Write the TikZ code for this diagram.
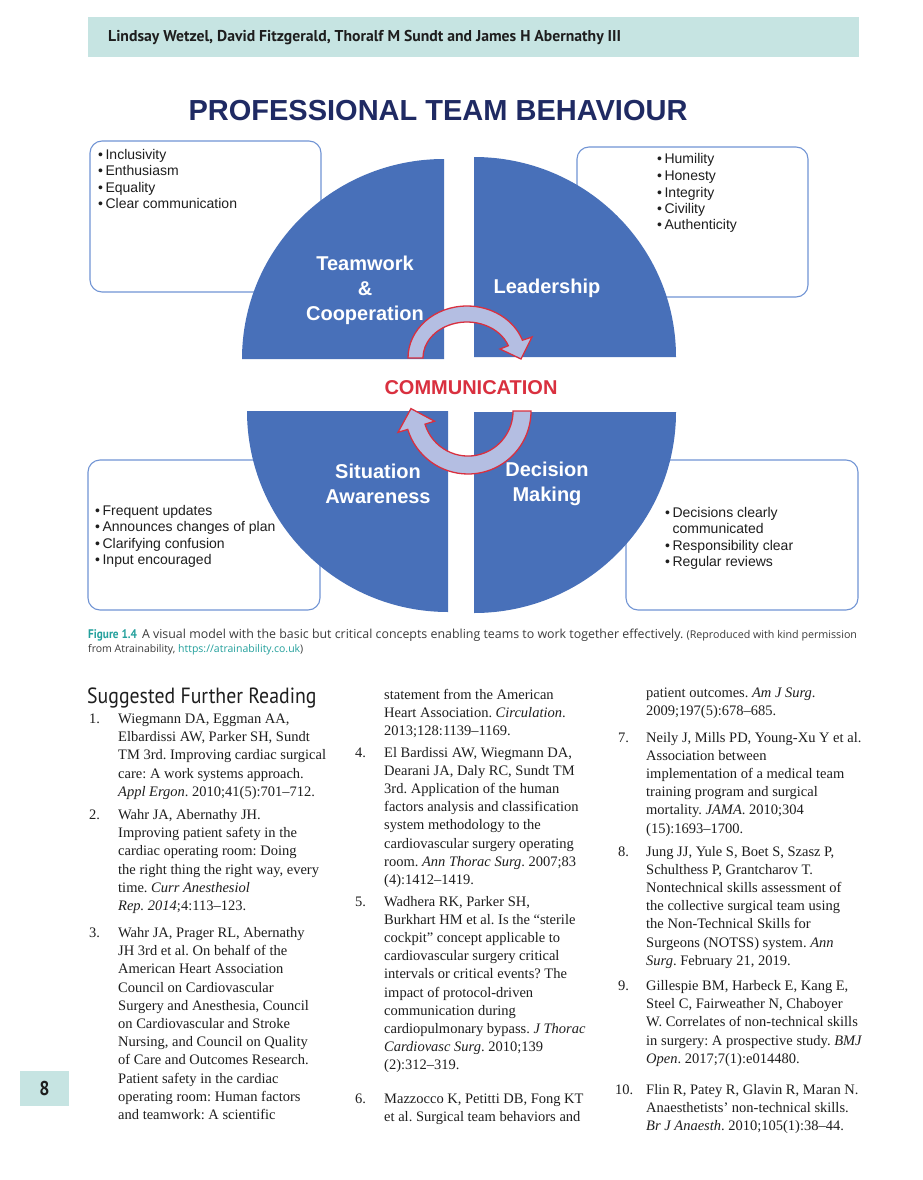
\documentclass[tikz,border=0pt]{standalone}
\usepackage{fontspec}
\usepackage{xcolor}
\usepackage{tikz}
\setmainfont{Liberation Serif}
\newfontfamily\arialfont{Liberation Sans}
\newfontfamily\condfont[FakeStretch=0.9]{PT Sans}
\newfontfamily\headfont{PT Sans}
\newfontfamily\captfont{Open Sans}
\definecolor{tbBlue}{HTML}{4870B9}
\definecolor{tbEdge}{HTML}{7194D4}
\definecolor{tbNavy}{HTML}{1F2A63}
\definecolor{tbRed}{HTML}{D9303F}
\definecolor{tbLav}{HTML}{B4BEE2}
\definecolor{tbTeal}{HTML}{C6E4E2}
\definecolor{tbCapt}{HTML}{23A09C}
\definecolor{tbGrey}{HTML}{3C3C3C}
\definecolor{tbInk}{HTML}{1E1E1E}
\newcommand\linestack[1]{\begin{tabular}[t]{@{}l@{}}#1\end{tabular}}
\newcommand\bitem{•\hspace{2.5pt}}
\frenchspacing
\tikzset{
  listbox/.style={
    draw=tbEdge, line width=1.1pt, rounded corners=12pt, fill=white, inner sep=0pt
  },
  quadrant/.style={fill=tbBlue, draw=none},
  quadlabel/.style={text=white, align=center, inner sep=0pt,
    font=\arialfont\bfseries\fontsize{20}{25}\selectfont},
  bullettext/.style={anchor=base west, inner sep=0pt, text=tbInk,
    font=\arialfont\fontsize{14}{16.5}\selectfont},
  commarrow/.style={fill=tbLav, draw=tbRed, line width=1.3pt, line join=miter},
  headbar/.style={fill=tbTeal, draw=none, inner sep=0pt},
  refnum/.style={anchor=base west, inner sep=0pt, text=tbInk,
    font=\fontsize{14.5}{18.2}\selectfont},
  reftext/.style={refnum},
  captext/.style={anchor=base west, inner sep=0pt, text=tbGrey,
    font=\captfont\fontsize{12.4}{14}\selectfont}
}
\begin{document}
\begin{tikzpicture}[x=1pt, y=-1pt]
  \useasboundingbox (0,0) rectangle (922,1180);
  \fill[white] (0,0) rectangle (922,1180);
  % running head
  \node[headbar, minimum width=771pt, minimum height=40pt] (head) at (473.5,37) {};
  \node[anchor=base west, inner sep=0pt, text=tbInk, font=\headfont\bfseries\fontsize{15.7}{18}\selectfont]
    (authors) at (108,42) {Lindsay Wetzel, David Fitzgerald, Thoralf M Sundt and James H Abernathy III};
  % figure
  \node[text=tbNavy, inner sep=0pt, font=\arialfont\bfseries\fontsize{29}{34}\selectfont]
    (title) at (438,111) {PROFESSIONAL TEAM BEHAVIOUR};
  \node[listbox, minimum width=231pt, minimum height=151pt] (boxTW) at (205.5,216.5) {};
  \node[listbox, minimum width=231pt, minimum height=150pt] (boxLD) at (692.5,222) {};
  \node[listbox, minimum width=232pt, minimum height=150pt] (boxSA) at (204,535) {};
  \node[listbox, minimum width=232pt, minimum height=150pt] (boxDM) at (742,535) {};
  \node[bullettext] (listTW) at (98,159)
    {\linestack{\bitem Inclusivity\\ \bitem Enthusiasm\\ \bitem Equality\\ \bitem Clear communication}};
  \node[bullettext] (listLD) at (657,164)
    {\linestack{\bitem Humility\\ \bitem Honesty\\ \bitem Integrity\\ \bitem Civility\\ \bitem Authenticity}};
  \node[bullettext] (listSA) at (95,515)
    {\linestack{\bitem Frequent updates\\ \bitem Announces changes of plan\\ \bitem Clarifying confusion\\ \bitem Input encouraged}};
  \node[bullettext] (listDM) at (665,517)
    {\linestack{\bitem Decisions clearly\\ \hphantom{\bitem}communicated\\ \bitem Responsibility clear\\ \bitem Regular reviews}};
  \fill[quadrant] (444,359) -- (242,359) arc[start angle=180, end angle=270, x radius=202, y radius=200] -- cycle;
  \fill[quadrant] (474,357) -- (474,157) arc[start angle=270, end angle=360, x radius=202, y radius=200] -- cycle;
  \fill[quadrant] (448,411) -- (247,411) arc[start angle=180, end angle=90, x radius=201, y radius=201] -- cycle;
  \fill[quadrant] (474,412) -- (676,412) arc[start angle=0, end angle=90, x radius=202, y radius=201] -- cycle;
  \node[quadlabel] (teamwork) at (365,290) {Teamwork\\ \&\\ Cooperation};
  \node[quadlabel] (leadership) at (547,288) {Leadership};
  \node[quadlabel] (awareness) at (378,484) {Situation\\ Awareness};
  \node[quadlabel] (decision) at (547,484) {Decision\\ Making};
  % communication loop
  \draw[commarrow] (408,358) arc[start angle=180, end angle=340, x radius=59, y radius=52]
    -- (532,337) -- (521,359) -- (500,349) -- (508.3,345.7)
    arc[start angle=340, end angle=180, x radius=44, y radius=36] -- cycle;
  \draw[commarrow] (531,411) arc[start angle=0, end angle=163, radius=63]
    -- (398,432.3) -- (411,408.6) -- (434.5,421.2) -- (425,424.2)
    arc[start angle=163, end angle=0, radius=45] -- cycle;
  \node[text=tbRed, inner sep=0pt, font=\arialfont\bfseries\fontsize{20}{24}\selectfont]
    (comm) at (471,388) {COMMUNICATION};
  % caption
  \node[captext] (capA) at (88,638)
    {{\condfont\bfseries\fontsize{12.5}{14}\selectfont\color{tbCapt}Figure 1.4}\hspace{5pt}A visual model with the basic but critical concepts enabling teams to work together effectively. {\fontsize{10.7}{12}\selectfont(Reproduced with kind permission}};
  \node[captext, font=\captfont\fontsize{10.5}{12}\selectfont] (capB) at (88,652)
    {from Atrainability, \textcolor{tbCapt}{https://atrainability.co.uk})};
  % further reading
  \node[anchor=base west, inner sep=0pt, text=tbInk, font=\condfont\fontsize{22}{26}\selectfont]
    (reading) at (87,703) {Suggested Further Reading};
  \node[refnum] (n1) at (89,723.5) {1.};
  \node[reftext] (r1) at (118,723.5) {\linestack{Wiegmann DA, Eggman AA,\\ Elbardissi AW, Parker SH, Sundt\\ TM 3rd. Improving cardiac surgical\\ care: A work systems approach.\\ \textit{Appl Ergon}. 2010;41(5):701--712.}};
  \node[refnum] (n2) at (89,819.5) {2.};
  \node[reftext] (r2) at (118,819.5) {\linestack{Wahr JA, Abernathy JH.\\ Improving patient safety in the\\ cardiac operating room: Doing\\ the right thing the right way, every\\ time. \textit{Curr Anesthesiol}\\ \textit{Rep. 2014};4:113--123.}};
  \node[refnum] (n3) at (89,937.5) {3.};
  \node[reftext] (r3) at (118,937.5) {\linestack{Wahr JA, Prager RL, Abernathy\\ JH 3rd et al. On behalf of the\\ American Heart Association\\ Council on Cardiovascular\\ Surgery and Anesthesia, Council\\ on Cardiovascular and Stroke\\ Nursing, and Council on Quality\\ of Care and Outcomes Research.\\ Patient safety in the cardiac\\ operating room: Human factors\\ and teamwork: A scientific}};
  \node[reftext] (r3b) at (384,699.5) {\linestack{statement from the American\\ Heart Association. \textit{Circulation}.\\ 2013;128:1139--1169.}};
  \node[refnum] (n4) at (355,757) {4.};
  \node[reftext] (r4) at (384,757) {\linestack{El Bardissi AW, Wiegmann DA,\\ Dearani JA, Daly RC, Sundt TM\\ 3rd. Application of the human\\ factors analysis and classification\\ system methodology to the\\ cardiovascular surgery operating\\ room. \textit{Ann Thorac Surg}. 2007;83\\ (4):1412--1419.}};
  \node[refnum] (n5) at (355,906) {5.};
  \node[reftext] (r5) at (384,906) {\linestack{Wadhera RK, Parker SH,\\ Burkhart HM et al. Is the “sterile\\ cockpit” concept applicable to\\ cardiovascular surgery critical\\ intervals or critical events? The\\ impact of protocol-driven\\ communication during\\ cardiopulmonary bypass. \textit{J Thorac}\\ \textit{Cardiovasc Surg}. 2010;139\\ (2):312--319.}};
  \node[refnum] (n6) at (355,1103.5) {6.};
  \node[reftext] (r6) at (384,1103.5) {\linestack{Mazzocco K, Petitti DB, Fong KT\\ et al. Surgical team behaviors and}};
  \node[reftext] (r6b) at (646,697.5) {\linestack{patient outcomes. \textit{Am J Surg}.\\ 2009;197(5):678--685.}};
  \node[refnum] (n7) at (618,742) {7.};
  \node[reftext] (r7) at (646,742) {\linestack{Neily J, Mills PD, Young-Xu Y et al.\\ Association between\\ implementation of a medical team\\ training program and surgical\\ mortality. \textit{JAMA}. 2010;304\\ (15):1693--1700.}};
  \node[refnum] (n8) at (618,856) {8.};
  \node[reftext] (r8) at (646,856) {\linestack{Jung JJ, Yule S, Boet S, Szasz P,\\ Schulthess P, Grantcharov T.\\ Nontechnical skills assessment of\\ the collective surgical team using\\ the Non-Technical Skills for\\ Surgeons (NOTSS) system. \textit{Ann}\\ \textit{Surg}. February 21, 2019.}};
  \node[refnum] (n9) at (618,990.5) {9.};
  \node[reftext] (r9) at (646,990.5) {\linestack{Gillespie BM, Harbeck E, Kang E,\\ Steel C, Fairweather N, Chaboyer\\ W. Correlates of non-technical skills\\ in surgery: A prospective study. \textit{BMJ}\\ \textit{Open}. 2017;7(1):e014480.}};
  \node[refnum] (n10) at (615,1094.5) {10.};
  \node[reftext] (r10) at (646,1094.5) {\linestack{Flin R, Patey R, Glavin R, Maran N.\\ Anaesthetists’ non-technical skills.\\ \textit{Br J Anaesth}. 2010;105(1):38--44.}};
  % folio
  \node[headbar, minimum width=49pt, minimum height=35pt] (folio) at (44.5,1088.5) {};
  \node[text=tbInk, inner sep=0pt, font=\condfont\bfseries\fontsize{20}{24}\selectfont] at (folio.center) {8};
\end{tikzpicture}
\end{document}
